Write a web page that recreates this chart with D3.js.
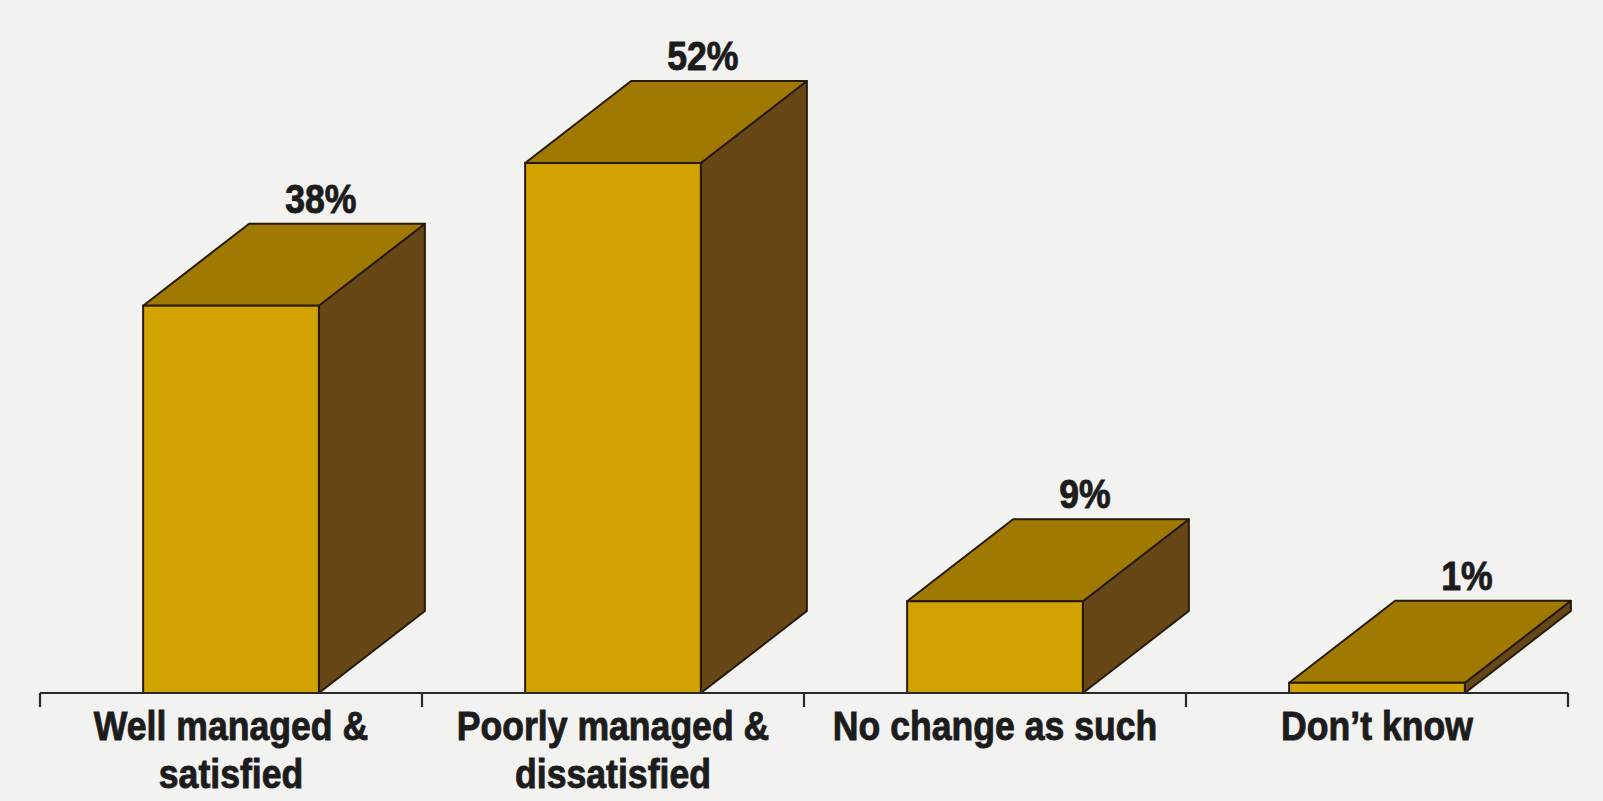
<!DOCTYPE html>
<html>
<head>
<meta charset="utf-8">
<script src="https://cdn.jsdelivr.net/npm/d3@7"></script>
<style>
  html, body { margin: 0; padding: 0; background: #f2f2f0; }
  svg { display: block; }
  .lbl { font-family: "Liberation Sans Narrow", "Arial Narrow", "Liberation Sans", Arial, sans-serif; font-weight: bold; fill: #1c1c1c; stroke: #1c1c1c; stroke-width: 0.9; }
</style>
</head>
<body>
<svg id="chart" width="1603" height="801"></svg>
<script>
const categories = [["Well managed &", "satisfied"], ["Poorly managed &", "dissatisfied"], ["No change as such"], ["Don\u2019t know"]];
const values = [38, 52, 9, 1];
const valueLabels = ["38%", "52%", "9%", "1%"];

const W = 1603, H = 801;
const svg = d3.select("#chart");
svg.append("rect").attr("width", W).attr("height", H).attr("fill", "#f2f2f0");

const x0 = 40, x1 = 1568, yBase = 693;
const depthX = 106, depthY = 82;
const squeeze = 0.89;

const x = d3.scaleBand().domain(d3.range(values.length)).range([x0, x1]).paddingInner(0.54).paddingOuter(0.27);
const y = d3.scaleLinear().domain([0, 52]).range([yBase, 163]);
const bw = x.bandwidth();

const cFront = "#d2a300", cTop = "#a07a00", cSide = "#684717", cEdge = "#261a06";

const g = svg.append("g");
values.forEach((v, i) => {
  const xl = x(i), xr = xl + bw, yt = y(v), yb = y(0);
  const bar = g.append("g");
  bar.append("path")
    .attr("d", `M${xr},${yt}L${xr+depthX},${yt-depthY}L${xr+depthX},${yb-depthY}L${xr},${yb}Z`)
    .attr("fill", cSide).attr("stroke", cEdge).attr("stroke-width", 2).attr("stroke-linejoin", "round");
  bar.append("path")
    .attr("d", `M${xl},${yt}L${xl+depthX},${yt-depthY}L${xr+depthX},${yt-depthY}L${xr},${yt}Z`)
    .attr("fill", cTop).attr("stroke", cEdge).attr("stroke-width", 2).attr("stroke-linejoin", "round");
  bar.append("rect")
    .attr("x", xl).attr("y", yt).attr("width", bw).attr("height", yb - yt)
    .attr("fill", cFront).attr("stroke", cEdge).attr("stroke-width", 2);
  g.append("g")
    .attr("transform", `translate(${xr + 2},${yt - depthY - 11}) scale(${squeeze},1)`)
    .append("text").attr("class", "lbl")
    .attr("text-anchor", "middle").attr("font-size", 40)
    .text(valueLabels[i]);
});

// axis
const step = x.step();
const tickPos = d3.range(values.length + 1).map(k => x0 + k * step);
svg.append("line").attr("x1", x0).attr("x2", x1).attr("y1", yBase).attr("y2", yBase)
  .attr("stroke", "#2a2a2a").attr("stroke-width", 2.2);
svg.selectAll(".tick").data(tickPos).join("line")
  .attr("x1", d => d).attr("x2", d => d).attr("y1", yBase).attr("y2", yBase + 14)
  .attr("stroke", "#2a2a2a").attr("stroke-width", 2.2);

// category labels
categories.forEach((lines, i) => {
  const cx = x(i) + bw / 2;
  const t = svg.append("g").attr("transform", `translate(${cx},0) scale(${squeeze},1)`)
    .append("text").attr("class", "lbl")
    .attr("text-anchor", "middle").attr("font-size", 40);
  lines.forEach((ln, j) => {
    t.append("tspan").attr("x", 0).attr("y", 740 + j * 48).text(ln);
  });
});
</script>
</body>
</html>
